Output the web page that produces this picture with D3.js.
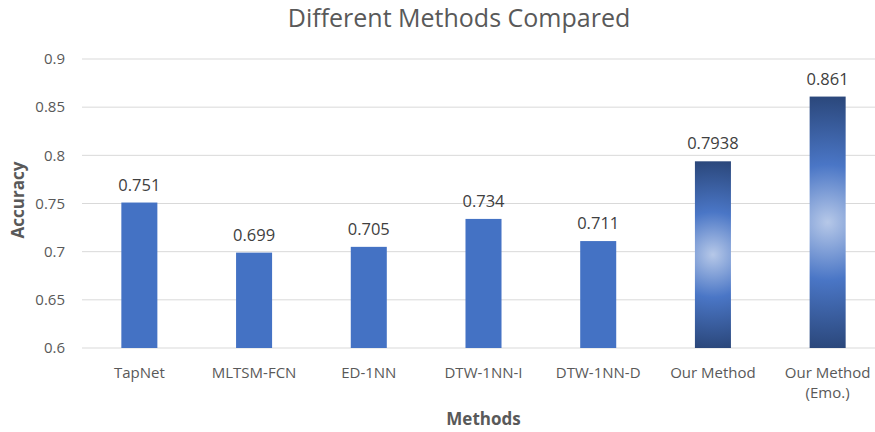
<!DOCTYPE html>
<html>
<head>
<meta charset="utf-8">
<script src="https://cdn.jsdelivr.net/npm/d3@7.9.0/dist/d3.min.js"></script>
<style>
  body { margin: 0; background: #fff; }
  svg { display: block; font-family: 'Open Sans', 'Liberation Sans', sans-serif; }
</style>
</head>
<body>
<svg id="chart" width="875" height="432"></svg>
<script>
const methods = ['TapNet', 'MLTSM-FCN', 'ED-1NN', 'DTW-1NN-I', 'DTW-1NN-D', 'Our Method', 'Our Method (Emo.)'];
const accuracy = [0.751, 0.699, 0.705, 0.734, 0.711, 0.7938, 0.861];
const valueLabels = ['0.751', '0.699', '0.705', '0.734', '0.711', '0.7938', '0.861'];
const highlighted = ['Our Method', 'Our Method (Emo.)'];
const yTicks = [0.6, 0.65, 0.7, 0.75, 0.8, 0.85, 0.9];

const width = 875, height = 432;
const plot = { left: 82, right: 885, top: 59, bottom: 348 };
const svg = d3.select('#chart');
const defs = svg.append('defs');

const x = d3.scaleBand()
  .domain(methods)
  .range([plot.left, plot.right])
  .paddingInner(0.686)
  .paddingOuter(0.343);

const y = d3.scaleLinear()
  .domain([0.6, 0.9])
  .range([plot.bottom, plot.top]);

// gridlines
svg.append('g')
  .selectAll('line')
  .data(yTicks)
  .join('line')
  .attr('x1', plot.left)
  .attr('x2', width)
  .attr('y1', d => y(d))
  .attr('y2', d => y(d))
  .attr('stroke', '#d9d9d9')
  .attr('stroke-width', 1);

// y tick labels
svg.append('g')
  .selectAll('text')
  .data(yTicks)
  .join('text')
  .attr('x', 65)
  .attr('y', d => y(d))
  .attr('dy', '0.35em')
  .attr('text-anchor', 'end')
  .attr('fill', '#595959')
  .attr('font-size', 15)
  .text(d => String(+d.toFixed(2)));

// gradients for our methods
methods.forEach((m, i) => {
  if (!highlighted.includes(m)) return;
  const cx = x(m) + x.bandwidth() / 2;
  const top = y(accuracy[i]);
  const bottom = y(0.6);
  const cy = (top + bottom) / 2;
  const r = (bottom - top) / 2;
  const g = defs.append('radialGradient')
    .attr('id', 'grad' + i)
    .attr('gradientUnits', 'userSpaceOnUse')
    .attr('cx', cx).attr('cy', cy).attr('r', r * 1.02)
    .attr('fx', cx).attr('fy', cy);
  g.append('stop').attr('offset', 0).attr('stop-color', '#b6c8e8');
  g.append('stop').attr('offset', 0.45).attr('stop-color', '#4a76c6');
  g.append('stop').attr('offset', 1).attr('stop-color', '#2a4679');
});

// bars
svg.append('g')
  .selectAll('rect')
  .data(methods)
  .join('rect')
  .attr('x', d => x(d))
  .attr('width', x.bandwidth())
  .attr('y', (d, i) => y(accuracy[i]))
  .attr('height', (d, i) => y(0.6) - y(accuracy[i]))
  .attr('fill', (d, i) => highlighted.includes(d) ? `url(#grad${i})` : '#4472c4');

// value labels
svg.append('g')
  .selectAll('text')
  .data(methods)
  .join('text')
  .attr('x', d => x(d) + x.bandwidth() / 2)
  .attr('y', (d, i) => y(accuracy[i]) - 12)
  .attr('text-anchor', 'middle')
  .attr('fill', '#404040')
  .attr('font-size', 16.5)
  .text((d, i) => valueLabels[i]);

// category labels, last one wraps onto two lines
const catLabels = svg.append('g')
  .selectAll('text')
  .data(methods)
  .join('text')
  .attr('x', d => x(d) + x.bandwidth() / 2)
  .attr('y', 378)
  .attr('text-anchor', 'middle')
  .attr('fill', '#595959')
  .attr('font-size', 15);

catLabels.each(function (d) {
  const t = d3.select(this);
  const lines = d === 'Our Method (Emo.)' ? ['Our Method', '(Emo.)'] : [d];
  lines.forEach((line, k) => {
    t.append('tspan')
      .attr('x', x(d) + x.bandwidth() / 2)
      .attr('dy', k === 0 ? 0 : 20)
      .text(line);
  });
});

// title
svg.append('text')
  .attr('x', 459)
  .attr('y', 27)
  .attr('text-anchor', 'middle')
  .attr('fill', '#595959')
  .attr('font-size', 25)
  .text('Different Methods Compared');

// axis titles
svg.append('text')
  .attr('x', (plot.left + plot.right) / 2)
  .attr('y', 425)
  .attr('text-anchor', 'middle')
  .attr('fill', '#595959')
  .attr('font-size', 17)
  .attr('font-weight', 'bold')
  .text('Methods');

svg.append('text')
  .attr('transform', 'translate(24, 200) rotate(-90)')
  .attr('text-anchor', 'middle')
  .attr('fill', '#595959')
  .attr('font-size', 17)
  .attr('font-weight', 'bold')
  .text('Accuracy');
</script>
</body>
</html>
